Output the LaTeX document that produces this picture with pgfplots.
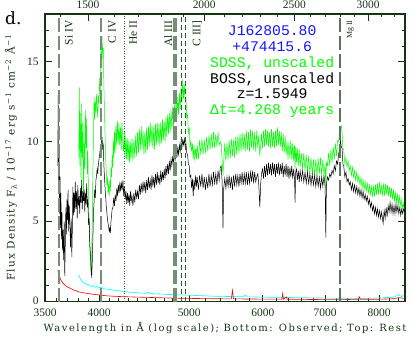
\documentclass[border=0pt]{standalone}
\usepackage{pgfplots}
\usepackage{pgfplotstable}
\pgfplotsset{compat=1.18}
\usepackage{fontspec}
\setmainfont{DejaVu Serif}
\newfontfamily\monofont{Liberation Mono}
\newfontfamily\timesfont{Liberation Serif}
\newfontfamily\labfont[LetterSpace=12]{DejaVu Serif}
\newfontfamily\xlabfont[LetterSpace=15]{DejaVu Serif}

\definecolor{axgreen}{RGB}{20,52,20}
\definecolor{vgray}{RGB}{118,142,118}
\definecolor{vdark}{RGB}{40,100,40}
\definecolor{sdss}{RGB}{0,255,0}
\definecolor{errc}{RGB}{0,255,255}
\definecolor{errr}{RGB}{255,0,0}
\definecolor{nameblue}{RGB}{20,20,255}

% BOSS spectrum (observed wavelength, flux)
\pgfplotstableread{
x y
3612 8.5
3616 12.9
3620 7.0
3624 9.2
3628 5.5
3632 7.8
3636 4.6
3640 6.8
3645 3.9
3650 5.6
3655 3.2
3660 4.5
3665 2.6
3670 5.0
3675 1.6
3680 3.8
3685 5.9
3690 4.2
3695 6.4
3700 5.1
3705 7.0
3710 4.4
3716 6.0
3722 4.8
3728 3.4
3734 5.2
3740 2.8
3745 4.6
3750 7.2
3755 5.4
3760 6.8
3766 5.6
3772 7.5
3778 5.8
3784 6.9
3790 5.2
3796 7.3
3802 6.0
3808 6.6
3814 5.5
3820 7.1
3826 6.2
3832 7.6
3838 5.8
3844 6.9
3850 6.3
3856 7.0
3862 5.6
3868 6.8
3874 6.1
3880 7.4
3886 5.9
3892 6.4
3898 4.8
3904 5.2
3910 3.6
3916 3.0
3922 2.2
3928 1.5
3934 2.4
3940 3.9
3946 5.6
3952 6.3
3958 7.0
3964 6.5
3970 7.6
3976 7.9
3982 8.3
3988 8.0
3994 8.6
4000 8.9
4006 9.2
4012 9.6
4018 9.4
4024 10.0
4030 10.3
4036 9.6
4042 9.8
4048 8.6
4054 7.8
4060 7.1
4066 6.6
4072 6.0
4078 5.6
4084 5.2
4090 4.9
4096 4.7
4102 4.4
4108 4.6
4114 4.3
4120 5.0
4126 5.4
4132 5.8
4140 5.9
4148 6.5
4156 6.0
4164 6.7
4172 6.3
4180 7.1
4188 6.6
4196 7.3
4204 6.8
4212 7.5
4220 6.9
4228 7.4
4236 7.0
4244 7.6
4252 6.6
4260 7.2
4268 6.4
4276 6.9
4284 6.1
4292 6.8
4300 6.2
4308 6.7
4316 6.0
4324 6.9
4332 6.3
4340 6.6
4350 6.0
4360 6.8
4370 6.2
4380 7.0
4390 6.5
4400 6.9
4410 6.4
4420 7.3
4430 6.7
4440 7.4
4450 6.8
4460 7.5
4470 6.9
4480 7.5
4490 6.8
4500 7.6
4510 7.0
4520 7.8
4530 7.1
4540 7.6
4550 7.0
4560 7.9
4570 7.2
4580 7.8
4590 7.1
4600 8.0
4610 7.3
4620 8.1
4630 7.4
4640 7.9
4650 7.3
4660 8.2
4670 7.5
4680 8.1
4690 7.6
4700 8.3
4710 7.7
4720 8.5
4730 7.9
4740 8.6
4750 8.0
4760 8.8
4770 8.2
4780 8.9
4790 8.5
4800 9.1
4810 8.6
4820 9.3
4830 8.9
4840 9.5
4850 9.0
4860 9.6
4870 9.2
4880 9.8
4890 9.4
4900 10.0
4910 9.6
4920 10.1
4930 9.8
4940 10.2
4950 9.7
4960 9.9
4970 9.3
4980 9.2
4990 8.6
5000 8.5
5010 7.8
5020 7.9
5030 7.1
5040 7.7
5050 6.6
5060 7.6
5070 7.0
5080 7.9
5090 7.2
5100 7.8
5115 7.0
5130 7.9
5145 7.2
5160 8.0
5175 7.1
5190 7.8
5205 7.0
5220 7.7
5235 7.1
5250 8.0
5265 7.2
5280 7.9
5295 7.3
5310 8.1
5325 7.4
5340 8.0
5355 7.3
5370 8.2
5385 7.6
5400 8.4
5412 8.5
5425 7.5
5436 4.6
5446 7.1
5460 7.7
5475 7.1
5490 7.8
5505 7.2
5520 7.9
5535 7.1
5550 7.8
5565 7.0
5580 7.9
5595 7.2
5610 8.0
5625 7.3
5640 7.9
5655 7.2
5670 8.0
5685 7.4
5700 8.1
5715 7.3
5730 8.0
5745 7.4
5760 8.1
5775 7.3
5790 8.0
5805 7.4
5820 8.1
5835 7.5
5850 8.2
5865 7.4
5880 8.1
5895 7.5
5910 7.8
5925 8.0
5940 7.3
5955 5.9
5968 7.4
5980 8.0
5995 8.3
6010 7.7
6025 8.5
6040 7.8
6055 8.6
6070 7.9
6085 8.7
6100 8.0
6115 8.6
6130 7.9
6145 8.7
6160 8.0
6175 8.6
6190 7.8
6205 8.6
6220 8.0
6235 8.7
6250 7.9
6265 8.6
6280 8.0
6295 8.7
6310 7.8
6325 8.5
6340 7.9
6355 8.6
6370 7.8
6385 8.5
6400 7.7
6415 8.4
6430 7.8
6445 8.5
6460 7.7
6475 8.3
6490 7.6
6498 6.2
6508 8.1
6520 8.3
6535 7.6
6550 8.2
6565 7.5
6580 8.2
6600 7.6
6620 8.2
6640 7.5
6660 8.1
6680 7.4
6700 8.1
6720 7.4
6740 8.0
6760 7.3
6780 8.0
6800 7.3
6820 7.9
6840 7.2
6860 7.9
6880 7.2
6900 7.8
6920 7.1
6940 7.8
6960 7.2
6980 7.9
7000 7.2
7012 4.0
7022 7.3
7040 7.8
7060 7.6
7080 8.0
7100 7.8
7120 8.2
7140 8.0
7160 8.5
7180 8.2
7200 8.8
7220 8.6
7240 9.3
7255 9.5
7270 10.1
7285 9.7
7300 9.6
7315 8.6
7330 8.5
7350 7.8
7370 8.1
7390 7.5
7410 7.7
7430 7.3
7450 7.5
7470 7.0
7490 7.4
7510 6.9
7530 7.3
7550 6.8
7570 7.2
7590 6.7
7610 7.1
7630 6.6
7650 7.0
7670 6.5
7690 6.9
7710 6.4
7730 6.7
7750 6.3
7770 6.6
7790 6.1
7810 6.4
7830 5.9
7850 6.2
7870 5.7
7890 6.0
7910 5.5
7930 5.9
7950 5.4
7970 5.8
7990 5.3
8010 5.7
8030 5.2
8050 5.6
8070 5.1
8080 4.9
8100 5.7
8120 5.2
8140 5.9
8160 5.3
8180 6.0
8200 5.6
8220 6.2
8240 5.6
8260 6.1
8280 5.5
8300 6.0
8320 5.5
8340 6.1
8360 5.6
8380 6.0
8400 5.5
8420 5.9
8440 5.4
8460 5.8
8480 5.5
8500 5.8
8530 5.6
}\boss

% SDSS spectrum
\pgfplotstableread{
x y
3805 9.0
3810 13.4
3815 8.5
3820 11.8
3826 7.6
3832 12.4
3838 9.0
3844 11.2
3850 6.5
3856 10.0
3862 8.3
3868 12.0
3874 9.6
3880 11.5
3886 8.0
3892 9.4
3898 6.2
3904 5.0
3910 3.2
3916 2.4
3922 1.8
3928 2.6
3934 4.8
3940 8.0
3946 10.4
3952 12.8
3958 11.4
3964 12.6
3970 11.8
3976 13.0
3982 12.2
3988 11.5
3994 12.9
4000 12.4
4006 14.0
4012 13.2
4018 15.8
4024 14.6
4030 16.6
4036 15.2
4042 15.9
4048 13.6
4054 12.0
4060 10.4
4066 9.0
4072 8.2
4078 7.3
4084 7.8
4090 6.8
4096 7.4
4102 6.6
4108 7.6
4114 6.9
4120 8.4
4126 7.8
4132 9.2
4138 8.4
4144 10.1
4150 9.0
4156 10.6
4162 9.3
4170 11.0
4178 9.8
4186 11.3
4194 9.9
4202 11.2
4210 9.8
4218 10.9
4226 9.5
4234 11.2
4242 10.0
4250 9.4
4258 10.6
4266 9.0
4274 10.4
4282 8.9
4290 10.2
4298 8.8
4306 10.1
4314 8.7
4322 10.0
4330 8.9
4340 10.2
4350 8.8
4360 10.1
4370 9.0
4380 10.4
4390 9.1
4400 10.6
4410 9.3
4420 10.8
4430 9.5
4440 11.0
4450 9.6
4460 10.7
4470 9.2
4480 10.6
4490 9.3
4500 10.9
4510 9.5
4520 11.0
4530 9.7
4540 11.2
4550 9.8
4560 11.0
4570 9.6
4580 10.9
4590 9.5
4600 11.1
4610 9.8
4620 11.2
4630 9.9
4640 11.1
4650 9.7
4660 11.2
4670 9.9
4680 11.4
4690 10.1
4700 11.3
4710 10.0
4720 11.5
4730 10.3
4740 11.7
4750 10.5
4760 11.8
4770 10.6
4780 12.0
4790 10.8
4800 12.2
4810 11.0
4820 12.4
4830 11.2
4840 12.6
4850 11.4
4860 12.8
4870 11.7
4880 13.1
4890 12.0
4900 13.4
4910 12.4
4920 13.9
4930 12.7
4940 13.6
4950 12.5
4960 12.7
4970 11.5
4980 11.7
4990 10.5
5000 10.9
5010 9.7
5020 10.0
5030 9.4
5040 9.9
5050 8.9
5060 9.8
5070 8.8
5080 9.6
5090 8.9
5100 9.8
5115 8.9
5130 10.1
5145 9.2
5160 10.2
5175 9.2
5190 10.1
5205 9.3
5220 10.3
5235 9.4
5250 10.4
5265 9.5
5280 10.5
5295 9.6
5310 10.6
5325 9.6
5340 10.5
5355 9.7
5370 10.6
5385 9.8
5400 10.0
5412 9.9
5425 8.8
5436 7.9
5446 8.8
5460 9.9
5475 8.8
5490 9.9
5505 8.9
5520 10.1
5535 9.0
5550 10.2
5565 9.1
5580 10.1
5595 9.0
5610 10.3
5625 9.2
5640 10.4
5655 9.3
5670 10.5
5685 9.4
5700 10.6
5715 9.5
5730 10.5
5745 9.4
5760 10.7
5775 9.5
5790 10.6
5805 9.4
5820 10.8
5835 9.6
5850 10.7
5865 9.5
5880 10.6
5895 9.4
5910 10.7
5925 9.6
5940 10.4
5955 9.1
5968 9.8
5980 10.5
5995 9.6
6010 10.7
6025 9.7
6040 10.8
6055 9.8
6070 10.7
6085 9.7
6100 10.6
6115 9.6
6130 10.8
6145 9.7
6160 10.6
6175 9.6
6190 10.7
6205 9.7
6220 10.9
6235 9.8
6250 10.7
6265 9.7
6280 10.6
6295 9.4
6310 10.5
6325 9.3
6340 10.4
6355 9.2
6370 10.0
6385 8.9
6400 10.0
6415 9.0
6430 10.1
6445 8.9
6460 9.9
6475 8.8
6490 9.8
6498 8.2
6508 9.7
6520 8.7
6535 9.6
6550 8.5
6565 9.5
6580 8.4
6600 9.3
6620 8.3
6640 9.3
6660 8.2
6680 9.2
6700 8.1
6720 9.1
6740 8.0
6760 9.0
6780 8.0
6800 8.9
6820 7.9
6840 8.9
6860 7.9
6880 9.0
6900 8.0
6920 9.0
6940 7.9
6960 8.9
6980 8.0
7000 8.6
7012 7.0
7022 8.7
7040 8.5
7060 9.3
7080 8.5
7100 9.5
7120 8.7
7140 9.7
7160 8.9
7180 9.9
7200 9.1
7220 10.1
7240 10.0
7255 10.9
7270 10.8
7285 11.0
7300 10.6
7315 9.6
7330 9.5
7350 8.6
7370 9.0
7390 8.4
7410 8.8
7430 8.2
7450 8.5
7470 7.9
7490 8.4
7510 7.8
7530 8.2
7550 7.6
7570 8.1
7590 7.5
7610 7.9
7630 7.3
7650 7.8
7670 7.1
7690 7.6
7710 7.0
7730 7.5
7750 6.9
7770 7.4
7790 6.8
7810 7.3
7830 6.7
7850 7.2
7870 6.6
7890 7.2
7910 6.6
7930 7.3
7950 6.7
7970 7.4
7990 6.7
8010 7.5
8030 6.7
8050 7.3
8070 6.6
8090 7.4
8110 6.6
8130 7.4
8150 6.7
8170 7.3
8190 6.6
8210 7.2
8230 6.5
8250 7.1
8270 6.4
8290 7.0
8310 6.3
8330 6.8
8350 6.2
8370 6.7
8390 6.1
8410 6.6
8430 6.0
8450 6.4
8470 5.8
8490 6.2
8510 5.8
}\sdss

% BOSS error
\pgfplotstableread{
x y
3612 2.0
3625 1.6
3640 1.35
3660 1.15
3690 0.95
3720 0.85
3760 0.72
3800 0.62
3850 0.55
3900 0.5
3950 0.45
4000 0.42
4050 0.38
4100 0.35
4200 0.32
4300 0.3
4400 0.28
4600 0.25
4800 0.22
5000 0.2
5300 0.18
5550 0.17
5565 0.7
5580 0.17
5900 0.16
6290 0.15
6300 0.5
6315 0.15
6360 0.3
6370 0.15
6800 0.13
7300 0.12
7600 0.15
7620 0.3
7640 0.15
8000 0.15
8300 0.18
8400 0.25
8500 0.2
}\bosserr

% SDSS error
\pgfplotstableread{
x y
3805 1.7
3820 1.4
3840 1.25
3860 1.15
3880 1.1
3900 1.05
3920 0.95
3940 1.0
3960 0.9
3980 0.95
4000 0.85
4020 0.9
4050 0.8
4100 0.76
4200 0.68
4300 0.6
4400 0.55
4500 0.52
4520 0.6
4540 0.5
4700 0.46
4900 0.42
5100 0.38
5300 0.34
5500 0.32
5700 0.3
5750 0.4
5770 0.3
6000 0.28
6500 0.25
7000 0.22
7500 0.2
8000 0.22
8300 0.28
8400 0.45
8450 0.3
8500 0.4
}\sdsserr

\begin{document}
\begin{tikzpicture}
\pgfplotsset{
  specax/.style={
    at={(0,0)}, anchor=south west,
    scale only axis, width=360bp, height=287.6bp,
    tick align=inside, major tick length=7bp, minor tick length=3.5bp,
    axis line style={axgreen, line width=1.1bp},
    tick style={axgreen, line width=0.9bp},
    ticklabel style={font=\timesfont\fontsize{11.5}{12}\selectfont, color=axgreen},
  }
}
% top axis: rest-frame wavelength
\begin{axis}[specax,
  xmode=log, xmin=1348.8, xmax=3287.3, ymin=0, ymax=1,
  axis x line*=top, axis y line=none,
  xtick={1500,2000,2500,3000},
  xticklabels={1500,2000,2500,3000},
  minor xtick={1400,1600,1700,1800,1900,2100,2200,2300,2400,2600,2700,2800,2900,3100,3200},
  xticklabel style={yshift=2bp},
]
\end{axis}
% main axis: observed wavelength
\begin{axis}[specax,
  xmode=log, xmin=3500, xmax=8530, ymin=0, ymax=18,
  xtick pos=lower, ytick pos=both,
  xtick={3500,4000,5000,6000,7000,8000},
  xticklabels={3500,4000,5000,6000,7000,8000},
  minor xtick={3600,3700,3800,3900,4100,4200,4300,4400,4500,4600,4700,4800,4900,5200,5400,5600,5800,6200,6400,6600,6800,7200,7400,7600,7800,8200,8400},
  ytick={0,5,10,15}, yticklabels={0,5,10,15},
  minor ytick={1,2,3,4,6,7,8,9,11,12,13,14,16,17},
  xticklabel style={yshift=-4bp},
  yticklabel style={xshift=-3bp, yshift=0.5bp},
  xlabel={Wavelength in Å (log scale); Bottom: Observed; Top: Rest},
  ylabel={Flux Density F\textsubscript{λ} / 10\textsuperscript{−17} erg s\textsuperscript{−1} cm\textsuperscript{−2} Å\textsuperscript{−1}},
  xlabel style={at={(axis description cs:0.5,-0.1047)}, anchor=base, font=\xlabfont\fontsize{10}{12}\selectfont, color=axgreen},
  ylabel style={at={(axis description cs:-0.0944,0.5)}, anchor=center, font=\labfont\fontsize{10.5}{11}\selectfont, color=axgreen},
  clip=true,
]
\addplot[sdss, line width=0.5bp] table {\sdss};
\addplot[black, line width=0.5bp] table {\boss};
\addplot[errc, line width=0.6bp] table {\sdsserr};
\addplot[errr, line width=0.6bp] table {\bosserr};

% emission line markers
\addplot[vgray, line width=2bp, dash pattern=on 14bp off 4bp] coordinates {(3627,0) (3627,18)};
\addplot[vgray, line width=2bp, dash pattern=on 14bp off 4bp] coordinates {(4020,0) (4020,18)};
\addplot[vdark, line width=0.7bp, dash pattern=on 1bp off 1.5bp] coordinates {(4257,0) (4257,18)};
\addplot[vgray, line width=2bp, dash pattern=on 14bp off 4bp] coordinates {(4820,0) (4820,18)};
\addplot[vgray, line width=2bp, dash pattern=on 14bp off 4bp] coordinates {(4834,0) (4834,18)};
\addplot[vdark, line width=0.9bp, dash pattern=on 5bp off 3bp] coordinates {(4910,0) (4910,18)};
\addplot[vdark, line width=0.9bp, dash pattern=on 5bp off 3bp] coordinates {(4953,0) (4953,18)};
\addplot[vgray!80!black, line width=2bp, dash pattern=on 14bp off 4bp] coordinates {(7263,0) (7263,18)};

\begin{scope}[every node/.style={rotate=90, anchor=east, inner sep=0pt, color=axgreen, font=\timesfont\fontsize{11.5}{12}\selectfont}]
\node at (axis cs:3714,17.6) {Si IV};
\node at (axis cs:4131,17.6) {C IV};
\node at (axis cs:4352,17.6) {He II};
\node at (axis cs:4745,17.6) {Al III};
\node at (axis cs:5099,17.6) {C III]};
\node[font=\timesfont\fontsize{8}{9}\selectfont] at (axis cs:7449,17.6) {Mg II};
\end{scope}

\begin{scope}[every node/.style={anchor=base, inner sep=0pt, font=\monofont\fontsize{14.8}{16}\selectfont}]
\node[nameblue] at (axis cs:6140,16.65) {J162805.80};
\node[nameblue] at (axis cs:6140,15.66) {+474415.6};
\node[sdss] at (axis cs:6140,14.67) {SDSS, unscaled};
\node[black] at (axis cs:6140,13.68) {BOSS, unscaled};
\node[black] at (axis cs:6140,12.69) {z=1.5949};
\node[sdss] at (axis cs:6140,11.70) {Δt=4.268 years};
\end{scope}
\end{axis}
\node[anchor=base west, inner sep=0pt, font=\fontsize{17}{18}\selectfont] at (-40bp,276.6bp) {d.};
\pgfresetboundingbox
\path[use as bounding box] (-45bp,-46.4bp) rectangle (368bp,301.6bp);
\end{tikzpicture}
\end{document}
